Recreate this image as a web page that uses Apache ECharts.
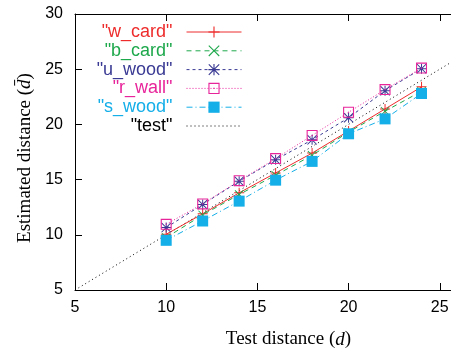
<!DOCTYPE html>
<html>
<head>
<meta charset="utf-8">
<script src="https://cdn.jsdelivr.net/npm/echarts@6/dist/echarts.min.js"></script>
<style>
  html, body { margin: 0; padding: 0; background: #fff; }
  #chart { width: 451px; height: 356px; }
</style>
</head>
<body>
<div id="chart"></div>
<script>
const testDist = [10, 12, 14, 16, 18, 20, 22, 24];
const wCard = [10.05, 11.9, 13.8, 15.6, 17.4, 19.4, 21.4, 23.4];
const bCard = [9.75, 11.8, 13.65, 15.4, 17.2, 19.3, 21.2, 23.0];
const uWood = [10.65, 12.75, 14.85, 16.8, 18.6, 20.6, 23.05, 25.05];
const rWall = [10.95, 12.8, 14.9, 16.9, 19.0, 21.1, 23.15, 25.1];
const sWood = [9.5, 11.25, 13.05, 14.95, 16.65, 19.15, 20.5, 22.8];
const testX = [5, 26];
const testY = [5, 26];
const xTicks = [5, 10, 15, 20, 25];
const yTicks = [5, 10, 15, 20, 25, 30];

const pair = (xs, ys) => xs.map((x, i) => [x, ys[i]]);

const plusPath = 'path://M0,4.5h10v1h-10z M4.5,0h1v10h-1z';
const crossPath = 'path://M0.7,0 L5,4.3 L9.3,0 L10,0.7 L5.7,5 L10,9.3 L9.3,10 L5,5.7 L0.7,10 L0,9.3 L4.3,5 L0,0.7z';
const starPath = 'path://M0.7,0 L5,4.3 L9.3,0 L10,0.7 L5.7,5 L10,9.3 L9.3,10 L5,5.7 L0.7,10 L0,9.3 L4.3,5 L0,0.7z M4.5,0h1v10h-1z M0,4.5h10v1h-10z';
const boxPath = 'path://M0,0h10v10h-10z M1,1v8h8v-8z M4.5,4.5h1v1h-1z';

const seriesDefs = [
  { name: '"w_card"', data: wCard, color: '#ee2c2c', symbol: plusPath, size: 10, dash: 'solid' },
  { name: '"b_card"', data: bCard, color: '#1ea84c', symbol: crossPath, size: 9, dash: [5, 4] },
  { name: '"u_wood"', data: uWood, color: '#3a3a94', symbol: starPath, size: 10, dash: [3, 3] },
  { name: '"r_wall"', data: rWall, color: '#e8249a', symbol: boxPath, size: 11, dash: [1, 2] },
  { name: '"s_wood"', data: sWood, color: '#14aee8', symbol: 'rect', size: 11, dash: [6, 3, 1, 3] },
];

const series = seriesDefs.map((s) => ({
  name: s.name,
  type: 'line',
  data: pair(testDist, s.data),
  symbol: s.symbol,
  symbolSize: s.size,
  color: s.color,
  itemStyle: { color: s.color },
  lineStyle: { color: s.color, width: 1, type: s.dash },
  animation: false,
  z: 3,
}));
series.push({
  name: '"test"',
  type: 'line',
  data: pair(testX, testY),
  symbol: 'none',
  color: '#000',
  itemStyle: { color: 'rgba(0,0,0,0)' },
  lineStyle: { color: '#000', width: 1, type: [1, 3] },
  animation: false,
  z: 2,
});

const legendColors = seriesDefs.map((s) => s.color).concat(['#000']);
const legends = series.map((s, i) => ({
  data: [{ name: s.name, textStyle: { color: legendColors[i] } }],
  right: 209,
  top: 23 + i * 18.8,
  align: 'right',
  itemWidth: 55,
  itemHeight: 14,
  padding: 0,
  selectedMode: false,
  lineStyle: { width: 1 },
  textStyle: {
    fontFamily: 'Liberation Sans',
    fontSize: 18,
    lineHeight: 18,
    padding: [0, 9, 0, 0],
  },
}));

const labelFont = { fontFamily: 'Liberation Sans', fontSize: 16, color: '#000' };
const tickFmt = (list) => (v) => (list.includes(v) ? String(v) : '');

const chart = echarts.init(document.getElementById('chart'), null, { renderer: 'canvas' });
chart.setOption({
  animation: false,
  backgroundColor: '#fff',
  legend: legends,
  grid: { left: 75, top: 14, right: -7, bottom: 66, outerBoundsMode: 'none', containLabel: false },
  xAxis: [
    {
      type: 'value', min: 5, max: 26, interval: 5,
      axisLine: { lineStyle: { color: '#000', width: 1 } },
      axisTick: { inside: true, length: 7, lineStyle: { color: '#000' } },
      axisLabel: Object.assign({ margin: 10, formatter: tickFmt(xTicks) }, labelFont),
      splitLine: { show: false },
      name: '{n|Test distance (}{i|d}{n|)}',
      nameLocation: 'middle',
      nameGap: 40,
      nameTextStyle: {
        padding: [0, 0, 0, 44],
        rich: {
          n: { fontFamily: 'Liberation Serif', fontSize: 19, color: '#000' },
          i: { fontFamily: 'Liberation Serif', fontSize: 19, fontStyle: 'italic', color: '#000' },
        },
      },
    },
    {
      type: 'value', min: 5, max: 26, interval: 5, position: 'top',
      axisLine: { lineStyle: { color: '#000', width: 1 } },
      axisTick: { inside: true, length: 7, lineStyle: { color: '#000' } },
      axisLabel: { show: false },
      splitLine: { show: false },
    },
  ],
  yAxis: [
    {
      type: 'value', min: 5, max: 30, interval: 5,
      axisLine: { show: true, lineStyle: { color: '#000', width: 1 } },
      axisTick: { show: true, inside: true, length: 7, lineStyle: { color: '#000' } },
      axisLabel: Object.assign({ margin: 12, formatter: tickFmt(yTicks) }, labelFont),
      splitLine: { show: false },
      name: '{n|Estimated distance (}{i|d\u0304}{n|)}',
      nameLocation: 'middle',
      nameGap: 40,
      nameTextStyle: {
        padding: [0, 12, 0, 0],
        rich: {
          n: { fontFamily: 'Liberation Serif', fontSize: 19, color: '#000' },
          i: { fontFamily: 'Liberation Serif', fontSize: 19, fontStyle: 'italic', color: '#000' },
        },
      },
    },
    {
      type: 'value', min: 5, max: 30, interval: 5, position: 'right',
      axisLine: { show: true, lineStyle: { color: '#000', width: 1 } },
      axisTick: { show: true, inside: true, length: 7, lineStyle: { color: '#000' } },
      axisLabel: { show: false },
      splitLine: { show: false },
    },
  ],
  series: series,
});
</script>
</body>
</html>
